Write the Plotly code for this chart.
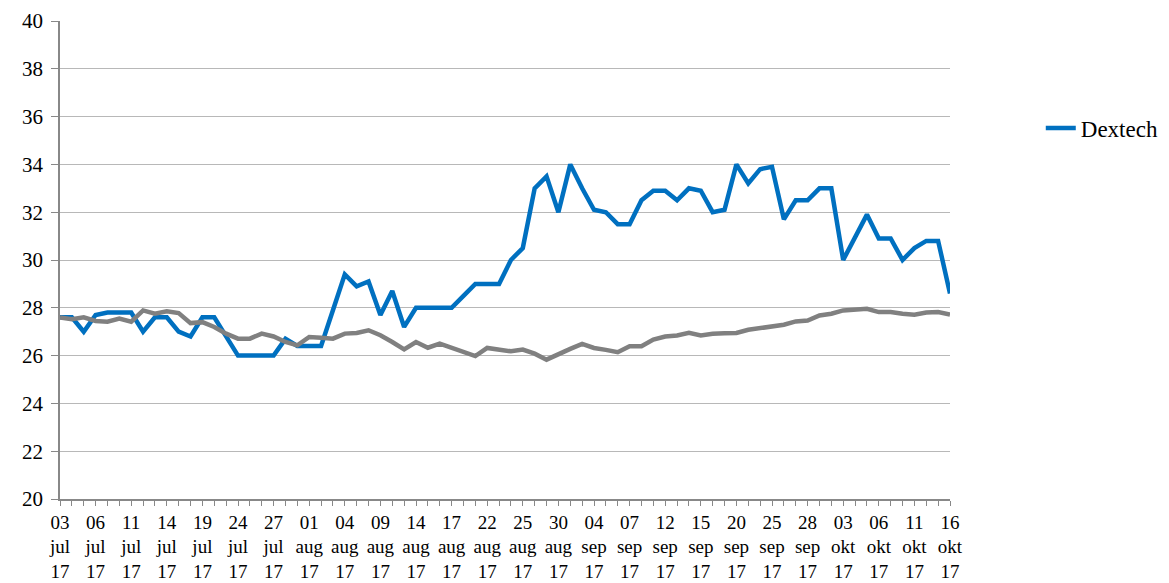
import plotly.graph_objects as go

dates = [
    "03 jul 17", "04 jul 17", "05 jul 17", "06 jul 17", "07 jul 17", "10 jul 17", "11 jul 17",
    "12 jul 17", "13 jul 17", "14 jul 17", "17 jul 17", "18 jul 17", "19 jul 17", "20 jul 17",
    "21 jul 17", "24 jul 17", "25 jul 17", "26 jul 17", "27 jul 17", "28 jul 17", "31 jul 17",
    "01 aug 17", "02 aug 17", "03 aug 17", "04 aug 17", "07 aug 17", "08 aug 17", "09 aug 17",
    "10 aug 17", "11 aug 17", "14 aug 17", "15 aug 17", "16 aug 17", "17 aug 17", "18 aug 17",
    "21 aug 17", "22 aug 17", "23 aug 17", "24 aug 17", "25 aug 17", "28 aug 17", "29 aug 17",
    "30 aug 17", "31 aug 17", "01 sep 17", "04 sep 17", "05 sep 17", "06 sep 17", "07 sep 17",
    "08 sep 17", "11 sep 17", "12 sep 17", "13 sep 17", "14 sep 17", "15 sep 17", "18 sep 17",
    "19 sep 17", "20 sep 17", "21 sep 17", "22 sep 17", "25 sep 17", "26 sep 17", "27 sep 17",
    "28 sep 17", "29 sep 17", "02 okt 17", "03 okt 17", "04 okt 17", "05 okt 17", "06 okt 17",
    "09 okt 17", "10 okt 17", "11 okt 17", "12 okt 17", "13 okt 17", "16 okt 17",
]

dextech = [
    27.6, 27.6, 27.0, 27.7, 27.8, 27.8, 27.8, 27.0, 27.6, 27.6,
    27.0, 26.8, 27.6, 27.6, 26.8, 26.0, 26.0, 26.0, 26.0, 26.7,
    26.4, 26.4, 26.4, 27.9, 29.4, 28.9, 29.1, 27.7, 28.7, 27.2,
    28.0, 28.0, 28.0, 28.0, 28.5, 29.0, 29.0, 29.0, 30.0, 30.5,
    33.0, 33.5, 32.0, 34.0, 33.0, 32.1, 32.0, 31.5, 31.5, 32.5,
    32.9, 32.9, 32.5, 33.0, 32.9, 32.0, 32.1, 34.0, 33.2, 33.8,
    33.9, 31.7, 32.5, 32.5, 33.0, 33.0, 30.0, 31.0, 31.9, 30.9,
    30.9, 30.0, 30.5, 30.8, 30.8, 28.6,
]

index_line = [
    27.60, 27.52, 27.60, 27.45, 27.42, 27.55, 27.42, 27.89, 27.75, 27.85,
    27.78, 27.36, 27.40, 27.20, 26.92, 26.71, 26.71, 26.92, 26.80, 26.57,
    26.43, 26.78, 26.75, 26.71, 26.92, 26.95, 27.06, 26.85, 26.57, 26.26,
    26.57, 26.33, 26.50, 26.32, 26.11, 25.98, 26.32, 26.26, 26.18, 26.25,
    26.08, 25.83, 26.07, 26.28, 26.49, 26.32, 26.24, 26.14, 26.39, 26.39,
    26.67, 26.80, 26.84, 26.95, 26.84, 26.91, 26.93, 26.95, 27.08, 27.16,
    27.22, 27.29, 27.43, 27.47, 27.68, 27.75, 27.89, 27.92, 27.96, 27.82,
    27.82, 27.75, 27.71, 27.80, 27.82, 27.72,
]

y_ticks = [20, 22, 24, 26, 28, 30, 32, 34, 36, 38, 40]

x = list(range(len(dates)))
label_idx = x[::3]
label_text = ["<br>".join(dates[i].split(" ")) for i in label_idx]

FONT = "'Liberation Serif', 'Times New Roman', 'DejaVu Serif', serif"

fig = go.Figure()
fig.add_trace(go.Scatter(
    x=x, y=dextech, mode="lines", name="Dextech",
    line=dict(color="#0070C0", width=4.5),
))
fig.add_trace(go.Scatter(
    x=x, y=index_line, mode="lines", name="Index", showlegend=False,
    line=dict(color="#808080", width=4.5),
))

fig.update_layout(
    width=1161, height=575,
    margin=dict(l=52, r=219, t=13, b=84, autoexpand=False),
    paper_bgcolor="white", plot_bgcolor="white",
    font=dict(family=FONT, color="#000000"),
    showlegend=True,
    legend=dict(x=1.102, y=0.776, xanchor="left", yanchor="middle",
                font=dict(family=FONT, size=23, color="#000000"),
                bgcolor="rgba(0,0,0,0)"),
)
fig.update_xaxes(
    range=[0, len(dates) - 1],
    tickmode="array", tickvals=label_idx, ticktext=label_text,
    tickangle=0,
    tickfont=dict(family=FONT, size=19, color="#000000"),
    ticks="outside", ticklen=5, tickcolor="#888888", tickwidth=1,
    minor=dict(dtick=1, tick0=0, ticks="outside", ticklen=5, tickcolor="#888888", tickwidth=1, showgrid=False),
    showline=True, linecolor="#888888", linewidth=1.5,
    showgrid=False, zeroline=False,
)
fig.update_yaxes(
    range=[20, 40], tickmode="array", tickvals=y_ticks,
    tickfont=dict(family=FONT, size=21, color="#000000"),
    ticks="outside", ticklen=7, tickcolor="#888888", tickwidth=1,
    ticklabelstandoff=4,
    showline=True, linecolor="#888888", linewidth=1.5,
    showgrid=True, gridcolor="#b8b8b8", gridwidth=1,
    zeroline=False,
)

fig.write_html("out.html")
